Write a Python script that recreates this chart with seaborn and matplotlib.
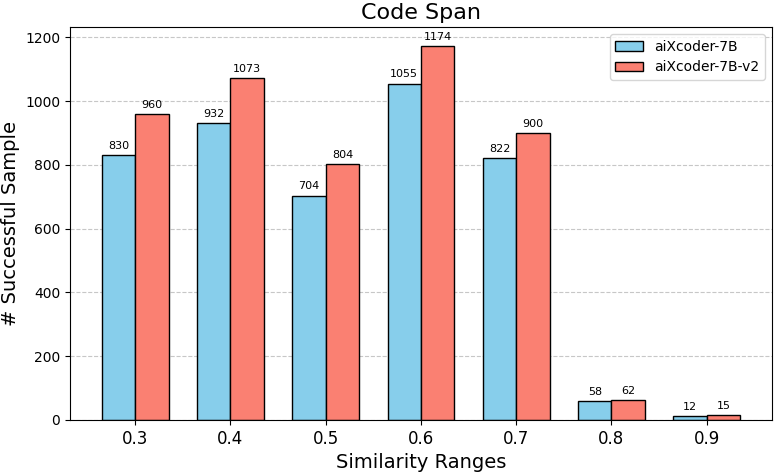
import matplotlib
matplotlib.use("Agg")
import matplotlib.pyplot as plt
import seaborn as sns
import pandas as pd

categories = ["0.3", "0.4", "0.5", "0.6", "0.7", "0.8", "0.9"]
series_a = [830, 932, 704, 1055, 822, 58, 12]
series_b = [960, 1073, 804, 1174, 900, 62, 15]
names = ["aiXcoder-7B", "aiXcoder-7B-v2"]

df = pd.DataFrame({
    "range": categories * 2,
    "value": series_a + series_b,
    "model": [names[0]] * len(categories) + [names[1]] * len(categories),
})

plt.rcParams['font.family'] = ['DejaVu Sans']
fig, ax = plt.subplots(figsize=(7.76, 4.73), dpi=100)
sns.barplot(data=df, x="range", y="value", hue="model", order=categories,
            hue_order=names, palette=["skyblue", "salmon"], width=0.7,
            edgecolor="black", linewidth=1, ax=ax, errorbar=None, saturation=1)

for cont in ax.containers:
    ax.bar_label(cont, labels=[f"{int(v)}" for v in cont.datavalues], fontsize=8, padding=3)

ax.set_title("Code Span", fontsize=16)
ax.set_xlabel("Similarity Ranges", fontsize=14)
ax.set_ylabel("# Successful Sample", fontsize=14)
ax.tick_params(axis="x", labelsize=12)
ax.tick_params(axis="y", labelsize=10)
ax.set_xlim(-0.685, 6.685)
ax.set_ylim(0, max(series_b) * 1.05)
ax.grid(axis="y", linestyle="--", alpha=0.7)
ax.set_axisbelow(True)
ax.legend(title=None, loc="upper right", fontsize=10)
fig.subplots_adjust(left=0.0902, right=0.9948, top=0.9429, bottom=0.1121)
fig.savefig("out.png", dpi=100)
